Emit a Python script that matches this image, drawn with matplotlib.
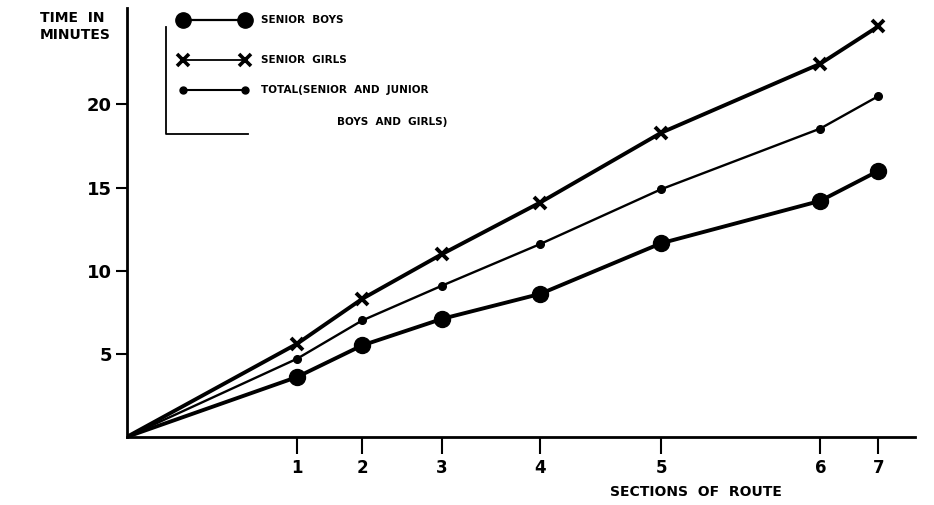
import matplotlib
matplotlib.use('Agg')
import matplotlib.pyplot as plt
import numpy as np

# sections of route and their cumulative distance along the route (arbitrary units)
sections = [1, 2, 3, 4, 5, 6, 7]
distance = [17.0, 23.5, 31.5, 41.3, 53.4, 69.3, 75.1]

# time in minutes
senior_boys = [3.6, 5.5, 7.1, 8.6, 11.65, 14.2, 16.0]
senior_girls = [5.6, 8.3, 11.0, 14.1, 18.3, 22.45, 24.7]
total = [4.7, 7.0, 9.1, 11.6, 14.9, 18.55, 20.5]

plt.rcParams['font.family'] = ['DejaVu Sans']
plt.rcParams['font.weight'] = 'bold'

fig = plt.figure(figsize=(9.34, 5.05), dpi=100)
ax = fig.add_axes([0.136, 0.135, 0.844, 0.849])

x = np.r_[0, distance]
ax.plot(x, np.r_[0, senior_girls], color='black', lw=2.8, marker='x',
        ms=9, mew=2.8, markevery=range(1, 8), solid_capstyle='round')
ax.plot(x, np.r_[0, total], color='black', lw=1.7, marker='o',
        ms=5.5, markevery=range(1, 8))
ax.plot(x, np.r_[0, senior_boys], color='black', lw=2.8, marker='o',
        ms=11.5, markevery=range(1, 8))

ax.set_xlim(0, 78.8)
ax.set_ylim(0, 25.8)
for s in ['top', 'right']:
    ax.spines[s].set_visible(False)
for s in ['left', 'bottom']:
    ax.spines[s].set_linewidth(2.0)

ax.set_xticks(distance)
ax.set_xticklabels([str(s) for s in sections], fontsize=12, fontweight='bold')
ax.set_yticks([5, 10, 15, 20])
ax.set_yticklabels(['5', '10', '15', '20'], fontsize=13, fontweight='bold')
ax.tick_params(axis='x', length=12, width=1.5, pad=4)
ax.tick_params(axis='y', length=8, width=1.5, pad=3)

fig.text(0.043, 0.978, 'TIME  IN\nMINUTES', fontsize=10, fontweight='bold',
         va='top', ha='left', linespacing=1.25)
fig.text(0.745, 0.026, 'SECTIONS  OF  ROUTE', fontsize=10, fontweight='bold',
         ha='center', va='center')

# legend drawn by hand in figure coordinates
legend_items = [('SENIOR  BOYS', dict(lw=1.6, marker='o', ms=11)),
                ('SENIOR  GIRLS', dict(lw=1.3, marker='x', ms=9, mew=2.6)),
                ('TOTAL(SENIOR  AND  JUNIOR', dict(lw=1.5, marker='o', ms=5))]
ys = [1 - 20 / 505, 1 - 60 / 505, 1 - 90 / 505]
for (label, style), yy in zip(legend_items, ys):
    fig.add_artist(plt.Line2D([183 / 934, 245 / 934], [yy, yy], color='black',
                              transform=fig.transFigure, **style))
    fig.text(261 / 934, yy, label, fontsize=7.5, fontweight='bold', va='center')
fig.text(337 / 934, 1 - 122 / 505, 'BOYS  AND  GIRLS)', fontsize=7.5,
         fontweight='bold', va='center')
fig.add_artist(plt.Line2D([166 / 934, 166 / 934, 248 / 934],
                          [1 - 27 / 505, 1 - 134 / 505, 1 - 134 / 505],
                          color='black', lw=1.3, transform=fig.transFigure))

fig.savefig('out.png', dpi=100)
